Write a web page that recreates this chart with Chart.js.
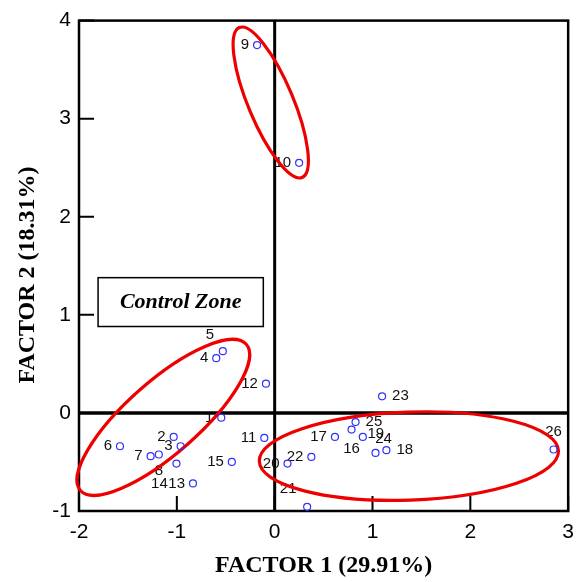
<!DOCTYPE html>
<html>
<head>
<meta charset="utf-8">
<script src="https://cdn.jsdelivr.net/npm/chart.js@4.4.1/dist/chart.umd.min.js"></script>
<style>
  html, body { margin: 0; padding: 0; background: #fff; }
</style>
</head>
<body>
<canvas id="myChart" width="583" height="582"></canvas>
<script>
// sample numbers and their scores on the two factors
const sampleLabels = ['1','2','3','4','5','6','7','8','9','10','11','12','13',
                      '14','15','16','17','18','19','20','21','22','23','24','25','26'];
const factor1 = [-0.546, -1.032, -0.961, -0.597, -0.530, -1.581, -1.268, -1.184, -0.180, 0.250,
                 -0.106, -0.089, -0.835, -1.004, -0.438, 0.786, 0.616, 1.142, 0.901, 0.131,
                 0.332, 0.375, 1.098, 1.031, 0.827, 2.851];
const factor2 = [-0.048, -0.245, -0.340, 0.558, 0.630, -0.340, -0.441, -0.424, 3.750, 2.550,
                 -0.255, 0.298, -0.719, -0.516, -0.500, -0.170, -0.245, -0.380, -0.245, -0.516,
                 -0.957, -0.449, 0.169, -0.408, -0.093, -0.373];

const ticksX = [-2, -1, 0, 1, 2, 3];
const ticksY = [-1, 0, 1, 2, 3, 4];

// grouping ellipses (centre in factor units, semi axes in factor units, tilt in degrees)
const groupCenterX = [-0.04, -1.138, 1.372];
const groupCenterY = [3.165, -0.045, -0.44];
const groupSemiMajor = [0.83, 1.13, 1.53];
const groupSemiMinor = [0.23, 0.37, 0.45];
const groupTilt = [67.3, -41.4, -2];

// where a label sits when it is not just left of its point
const labelShift = {
  '5': [-13, -16], '8': [0, 16], '14': [-17, 20], '16': [0, 19], '19': [13, -3],
  '21': [-19, -18], '24': [8, -14], '26': [0, -18], '23': 'right', '25': 'right', '18': 'right'
};

const decor = {
  id: 'decor',
  beforeDatasetsDraw(chart) {
    const { ctx, chartArea: a, scales: { x, y } } = chart;
    const k = x.getPixelForValue(1) - x.getPixelForValue(0);
    ctx.save();

    // point labels (under the zero lines, like the original)
    ctx.fillStyle = '#111';
    ctx.font = '15px "Liberation Sans"';
    ctx.textBaseline = 'middle';
    sampleLabels.forEach((lab, i) => {
      const px = x.getPixelForValue(factor1[i]);
      const py = y.getPixelForValue(factor2[i]);
      const s = labelShift[lab];
      if (Array.isArray(s)) {
        ctx.textAlign = 'center';
        ctx.fillText(lab, px + s[0], py + s[1]);
      } else if (s === 'right') {
        ctx.textAlign = 'left';
        ctx.fillText(lab, px + 10, py);
      } else {
        ctx.textAlign = 'right';
        ctx.fillText(lab, px - 8, py);
      }
    });

    ctx.strokeStyle = '#000';
    // zero lines
    ctx.lineWidth = 3.5;
    ctx.beginPath();
    ctx.moveTo(a.left, y.getPixelForValue(0));
    ctx.lineTo(a.right, y.getPixelForValue(0));
    ctx.stroke();
    ctx.lineWidth = 3;
    ctx.beginPath();
    ctx.moveTo(x.getPixelForValue(0), a.top);
    ctx.lineTo(x.getPixelForValue(0), a.bottom);
    ctx.stroke();

    // frame and inside ticks
    ctx.lineWidth = 2.5;
    ctx.strokeRect(a.left, a.top, a.width, a.height);
    ctx.lineWidth = 2;
    ctx.beginPath();
    ticksX.forEach(v => {
      const px = x.getPixelForValue(v);
      ctx.moveTo(px, a.bottom);
      ctx.lineTo(px, a.bottom - 15);
    });
    ticksY.forEach(v => {
      const py = y.getPixelForValue(v);
      ctx.moveTo(a.left, py);
      ctx.lineTo(a.left + 15, py);
    });
    ctx.stroke();

    // ellipses
    ctx.strokeStyle = '#ee0000';
    ctx.lineWidth = 3.2;
    groupCenterX.forEach((cx, i) => {
      ctx.beginPath();
      ctx.ellipse(x.getPixelForValue(cx), y.getPixelForValue(groupCenterY[i]),
        groupSemiMajor[i] * k, groupSemiMinor[i] * k, groupTilt[i] * Math.PI / 180, 0, Math.PI * 2);
      ctx.stroke();
    });

    // control zone box
    const bx1 = x.getPixelForValue(-1.805), bx2 = x.getPixelForValue(-0.116);
    const by1 = y.getPixelForValue(1.379), by2 = y.getPixelForValue(0.881);
    ctx.strokeStyle = '#000';
    ctx.lineWidth = 1.5;
    ctx.strokeRect(bx1, by1, bx2 - bx1, by2 - by1);
    ctx.fillStyle = '#000';
    ctx.font = 'italic bold 22px "Liberation Serif"';
    ctx.textAlign = 'center';
    ctx.textBaseline = 'middle';
    ctx.fillText('Control Zone', (bx1 + bx2) / 2, (by1 + by2) / 2);
    ctx.restore();
  },
  afterDatasetsDraw(chart) {
    const { ctx } = chart;
    ctx.save();
    // vertical axis title
    ctx.fillStyle = '#000';
    ctx.font = 'bold 24px "Liberation Serif"';
    ctx.textAlign = 'center';
    ctx.textBaseline = 'middle';
    ctx.translate(28, 275);
    ctx.rotate(-Math.PI / 2);
    ctx.fillText('FACTOR 2 (18.31%)', 0, 0);
    ctx.restore();
  }
};

const ctx = document.getElementById('myChart');

const myChart = new Chart(ctx, {
  type: 'scatter',
  data: {
    labels: sampleLabels,
    datasets: [{
      data: factor1.map((v, i) => ({ x: v, y: factor2[i] })),
      pointStyle: 'circle',
      pointRadius: 3.5,
      borderColor: '#3030ff',
      backgroundColor: 'rgba(0,0,0,0)',
      borderWidth: 1.2
    }]
  },
  options: {
    responsive: false,
    animation: false,
    layout: { padding: { top: 19, right: 13, left: 0, bottom: 0 } },
    plugins: {
      legend: { display: false },
      tooltip: { enabled: false }
    },
    scales: {
      x: {
        type: 'linear',
        min: -2,
        max: 3,
        afterBuildTicks: s => { s.ticks = ticksX.map(v => ({ value: v })); },
        afterFit: s => { s.height = 71; },
        grid: { display: false, drawTicks: false },
        border: { display: false },
        ticks: {
          color: '#000',
          font: { family: 'Liberation Sans', size: 21 },
          padding: 9,
          autoSkip: false,
          maxRotation: 0
        },
        title: {
          display: true,
          text: 'FACTOR 1 (29.91%)',
          color: '#000',
          font: { family: 'Liberation Serif', size: 24, weight: 'bold' },
          padding: { top: 0, bottom: 2 }
        }
      },
      y: {
        type: 'linear',
        min: -1,
        max: 4,
        afterBuildTicks: s => { s.ticks = ticksY.map(v => ({ value: v })); },
        afterFit: s => { s.width = 79; },
        grid: { display: false, drawTicks: false },
        border: { display: false },
        ticks: {
          color: '#000',
          font: { family: 'Liberation Sans', size: 21 },
          padding: 8,
          autoSkip: false
        }
      }
    }
  },
  plugins: [decor]
});
</script>
</body>
</html>
